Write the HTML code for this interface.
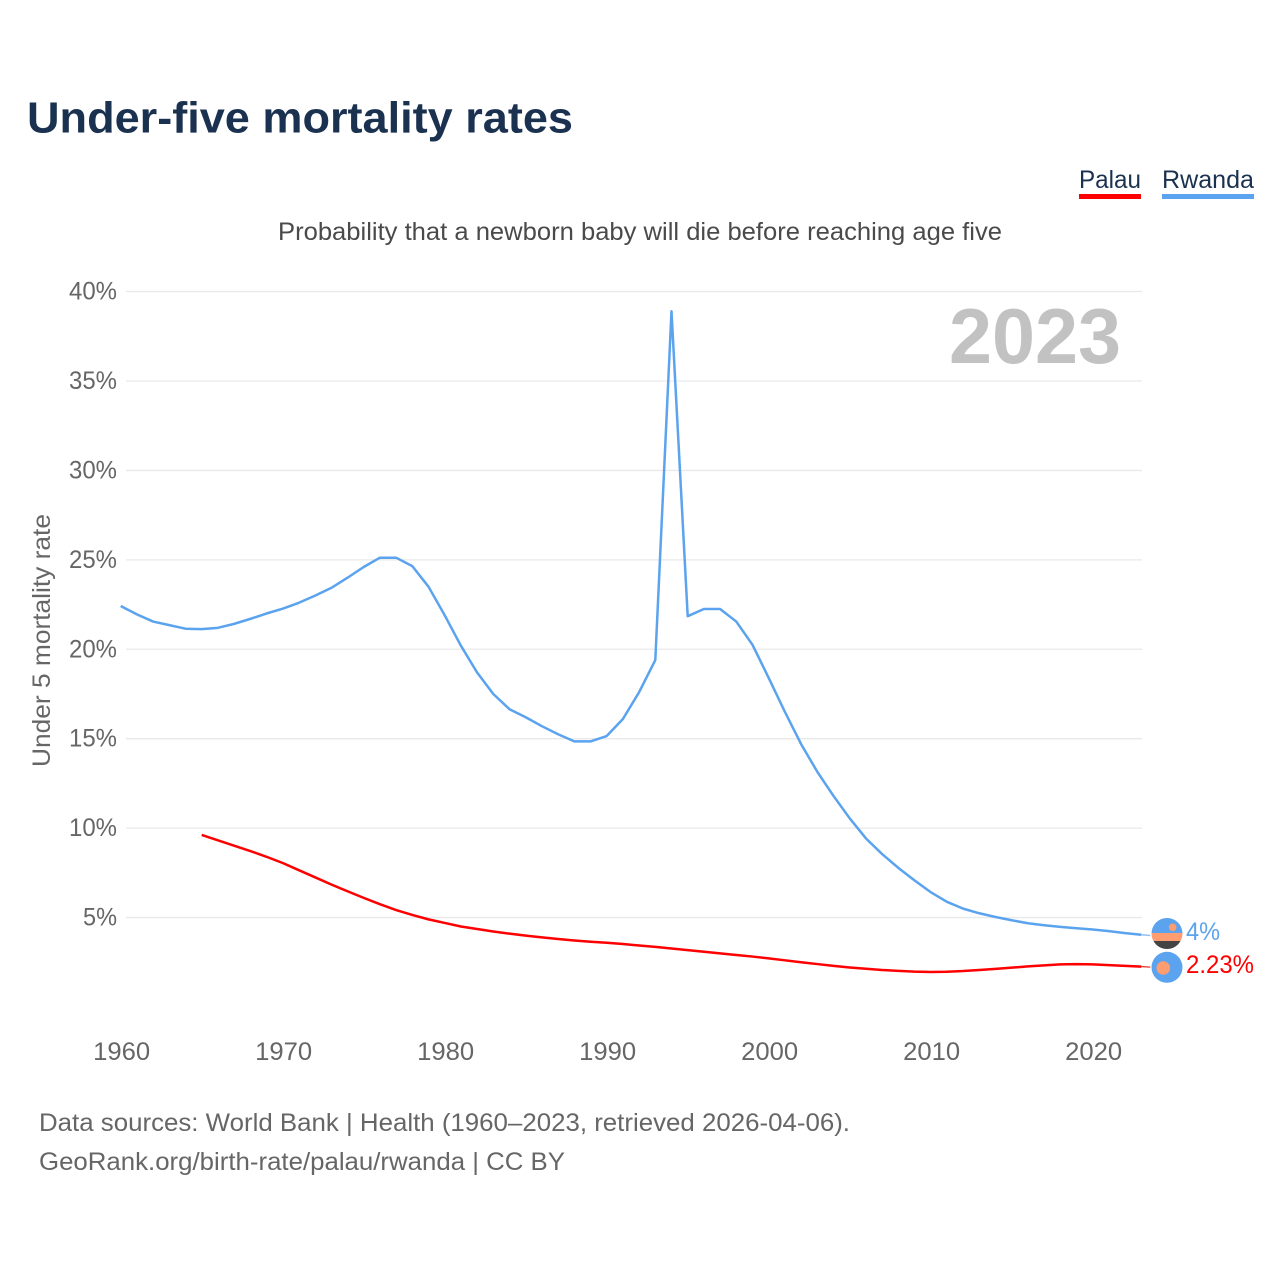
<!DOCTYPE html>
<html>
<head>
<meta charset="utf-8">
<title>Under-five mortality rates</title>
<style>
html,body{margin:0;padding:0;background:#fff;}
svg{display:block;}
text{font-family:"Liberation Sans",Arial,sans-serif;}
</style>
</head>
<body>
<svg id="chart" xmlns="http://www.w3.org/2000/svg" width="1280" height="1280" viewBox="0 0 1280 1280">
  <rect width="1280" height="1280" fill="#fff"/>
  <text x="27" y="132.500" font-size="44" font-weight="700" fill="#1a3150" textLength="546" lengthAdjust="spacingAndGlyphs">Under-five mortality rates</text>

  <g>
    <g>
      <text x="1079" y="188" font-size="25" fill="#1a3150" textLength="62" lengthAdjust="spacingAndGlyphs">Palau</text>
      <rect x="1079" y="194" width="62" height="5" fill="#ff0000"/>
    </g>
    <g>
      <text x="1162" y="188" font-size="25" fill="#1a3150" textLength="92" lengthAdjust="spacingAndGlyphs">Rwanda</text>
      <rect x="1162" y="194" width="92" height="5" fill="#5ba3ee"/>
    </g>
  </g>

  <text x="278" y="240" font-size="25" fill="#4a4a4a" textLength="724" lengthAdjust="spacingAndGlyphs">Probability that a newborn baby will die before reaching age five</text>

  <g id="grid"></g>
  <g id="yticks"></g>
  <g id="xticks"></g>

  <text transform="translate(50,767) rotate(-90)" x="0" y="0" font-size="25" fill="#666" textLength="253" lengthAdjust="spacingAndGlyphs">Under 5 mortality rate</text>

  <text x="949" y="363" font-size="78" font-weight="700" fill="#c2c2c2" textLength="172" lengthAdjust="spacingAndGlyphs">2023</text>

  <g id="series"></g>

  <g>
    <clipPath id="clip-rw"><circle cx="1167" cy="933.500" r="15.500"/></clipPath>
    <g clip-path="url(#clip-rw)">
      <rect x="1150" y="917" width="34" height="16" fill="#5ba3ee"/>
      <rect x="1150" y="933" width="34" height="8" fill="#ff9d70"/>
      <rect x="1150" y="941" width="34" height="10" fill="#444"/>
    </g>
    <circle cx="1172.700" cy="927.300" r="3.800" fill="#ff9d70"/>
  </g>
  <g>
    <circle cx="1167" cy="967.300" r="15.500" fill="#5ba3ee"/>
    <circle cx="1163.300" cy="968" r="6.800" fill="#ff9d70"/>
  </g>

  <text x="1186" y="940" font-size="25" fill="#5ba3ee" textLength="34" lengthAdjust="spacingAndGlyphs">4%</text>
  <text x="1186" y="973" font-size="25" fill="#ff0000" textLength="68" lengthAdjust="spacingAndGlyphs">2.23%</text>

  <text x="39" y="1131" font-size="25" fill="#666" textLength="811" lengthAdjust="spacingAndGlyphs">Data sources: World Bank | Health (1960–2023, retrieved 2026-04-06).</text>
  <text x="39" y="1170" font-size="25" fill="#666" textLength="526" lengthAdjust="spacingAndGlyphs">GeoRank.org/birth-rate/palau/rwanda | CC BY</text>
</svg>
<script>
const yTickValues = [5, 10, 15, 20, 25, 30, 35, 40];
const xTickYears = [1960, 1970, 1980, 1990, 2000, 2010, 2020];
const rwandaStartYear = 1960;
const rwandaValues = [22.42,21.95,21.55,21.35,21.15,21.13,21.2,21.42,21.7,22.0,22.27,22.6,23.0,23.43,24.0,24.6,25.12,25.12,24.65,23.5,21.9,20.2,18.7,17.5,16.65,16.2,15.7,15.25,14.85,14.85,15.15,16.1,17.6,19.4,38.9,21.85,22.25,22.25,21.55,20.25,18.4,16.5,14.7,13.15,11.8,10.55,9.43,8.55,7.78,7.08,6.42,5.88,5.5,5.24,5.03,4.85,4.68,4.57,4.48,4.4,4.33,4.24,4.13,4.04];
const palauStartYear = 1965;
const palauValues = [9.62,9.32,9.02,8.72,8.4,8.05,7.65,7.25,6.85,6.47,6.1,5.75,5.42,5.15,4.9,4.7,4.5,4.36,4.22,4.1,3.99,3.89,3.8,3.72,3.65,3.59,3.52,3.44,3.36,3.27,3.18,3.09,3.0,2.91,2.82,2.72,2.61,2.5,2.4,2.3,2.21,2.14,2.07,2.02,1.98,1.96,1.97,2.01,2.07,2.13,2.2,2.27,2.33,2.38,2.4,2.38,2.34,2.3,2.26];
const rwandaEndValue = 4;
const palauEndValue = 2.23;

const SVG_NS = 'http://www.w3.org/2000/svg';
function xScale(year) { return 120.7 + (year - 1960) * 16.2; }
function yScale(value) { return 1007 - value * 17.886; }
function make(tag, attrs) {
  const el = document.createElementNS(SVG_NS, tag);
  for (const key in attrs) el.setAttribute(key, attrs[key]);
  return el;
}
const grid = document.getElementById('grid');
const yticks = document.getElementById('yticks');
const xticks = document.getElementById('xticks');
const series = document.getElementById('series');

yTickValues.forEach(function (v) {
  const line = make('line', { x1: 126, x2: 1142, y1: yScale(v), y2: yScale(v), stroke: '#e9e9e9', 'stroke-width': 1.3 });
  
  
  grid.appendChild(line);
  const label = make('text', { x: 117, y: yScale(v) + 8, 'font-size': 25, fill: '#666', 'text-anchor': 'end' });
  
  
  label.textContent = v + '%';
  label.setAttribute('textLength', v < 10 ? 34 : 48);
  label.setAttribute('lengthAdjust', 'spacingAndGlyphs');
  yticks.appendChild(label);
});

xTickYears.forEach(function (year) {
  const label = make('text', { x: xScale(year) + 1, y: 1060, 'font-size': 25, fill: '#666', 'text-anchor': 'middle' });
  
  
  label.textContent = year;
  label.setAttribute('textLength', 57);
  label.setAttribute('lengthAdjust', 'spacingAndGlyphs');
  xticks.appendChild(label);
});

function linePoints(startYear, values) {
  return values.map(function (v, i) {
    return xScale(startYear + i).toFixed(2) + ',' + yScale(v).toFixed(2);
  }).join(' ');
}

const rwandaLastX = xScale(rwandaStartYear + rwandaValues.length - 1);
const rwandaLastY = yScale(rwandaValues[rwandaValues.length - 1]);
const rwandaConnector = make('line', { x1: rwandaLastX, y1: rwandaLastY, x2: rwandaLastX + 9, y2: yScale(rwandaEndValue), stroke: '#8fc0f3', 'stroke-width': 1.5 });


series.appendChild(rwandaConnector);

const palauLastX = xScale(palauStartYear + palauValues.length - 1);
const palauLastY = yScale(palauValues[palauValues.length - 1]);
const palauConnector = make('line', { x1: palauLastX, y1: palauLastY, x2: palauLastX + 9, y2: yScale(palauEndValue), stroke: '#e8382f', 'stroke-width': 1.3 });


series.appendChild(palauConnector);

const rwandaLine = make('polyline', { points: linePoints(rwandaStartYear, rwandaValues), fill: 'none', stroke: '#5ba3ee', 'stroke-width': 2.5, 'stroke-linejoin': 'round' });


series.appendChild(rwandaLine);

const palauLine = make('polyline', { points: linePoints(palauStartYear, palauValues), fill: 'none', stroke: '#ff0000', 'stroke-width': 2.5, 'stroke-linejoin': 'round' });


series.appendChild(palauLine);
</script>
</body>
</html>
